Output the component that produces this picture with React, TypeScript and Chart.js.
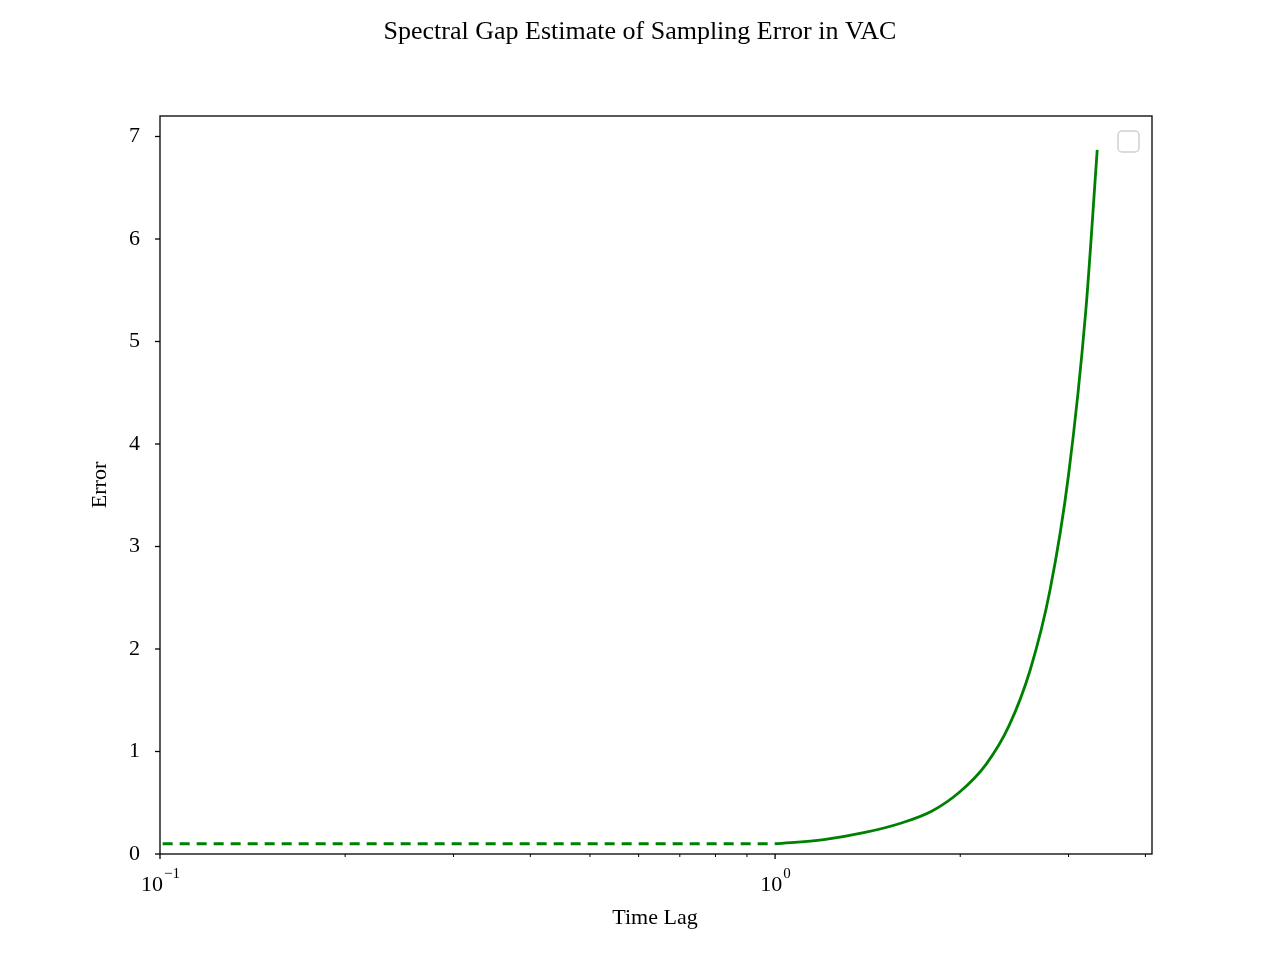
import { useEffect, useRef } from "react";
import { Chart, registerables } from "chart.js";

Chart.register(...registerables);

// dashed flat part, below lag 1
const dashLags = [0.101, 0.2, 0.5, 1.0];
const dashErrors = [0.1, 0.1, 0.1, 0.1];

// solid part, from lag 1 to the end
const solidLags = [1.0, 1.2, 1.4, 1.6, 1.8, 2.0, 2.2, 2.4, 2.6, 2.8, 3.0, 3.2, 3.34];
const solidErrors = [0.1, 0.14, 0.21, 0.3, 0.42, 0.61, 0.87, 1.25, 1.8, 2.58, 3.7, 5.3, 6.87];

const yTicks = [0, 1, 2, 3, 4, 5, 6, 7];
const xMajor = [0.1, 1];
const xMinor = [0.2, 0.3, 0.4, 0.5, 0.6, 0.7, 0.8, 0.9, 2, 3, 4];

const FONT = "'Liberation Serif', 'DejaVu Serif', serif";

const decor = {
  id: "decor",
  afterDraw(chart: any) {
    const { ctx, chartArea: a, scales } = chart;
    ctx.save();
    ctx.strokeStyle = "#000";
    ctx.lineWidth = 1.3;
    ctx.strokeRect(a.left, a.top, a.right - a.left, a.bottom - a.top);
    // ticks
    const tick = (x: number, len: number) => {
      ctx.beginPath();
      ctx.moveTo(x, a.bottom);
      ctx.lineTo(x, a.bottom + len);
      ctx.stroke();
    };
    xMajor.forEach((v) => tick(scales.x.getPixelForValue(v), 5));
    ctx.lineWidth = 1;
    xMinor.forEach((v) => tick(scales.x.getPixelForValue(v), 3));
    ctx.lineWidth = 1.3;
    yTicks.forEach((v) => {
      const y = scales.y.getPixelForValue(v);
      ctx.beginPath();
      ctx.moveTo(a.left, y);
      ctx.lineTo(a.left - 5, y);
      ctx.stroke();
    });
    // x tick labels with superscripts
    ctx.fillStyle = "#000";
    ctx.textBaseline = "top";
    const labels: [number, string][] = [[0.1, "−1"], [1, "0"]];
    labels.forEach(([v, exp]) => {
      const x = scales.x.getPixelForValue(v);
      ctx.font = `22px ${FONT}`;
      const w1 = ctx.measureText("10").width;
      ctx.font = `15px ${FONT}`;
      const w2 = ctx.measureText(exp).width;
      const x0 = x - (w1 + w2) / 2;
      ctx.font = `22px ${FONT}`;
      ctx.fillText("10", x0, a.bottom + 20);
      ctx.font = `15px ${FONT}`;
      ctx.fillText(exp, x0 + w1 + 1, a.bottom + 13);
    });
    // axis titles
    ctx.font = `22px ${FONT}`;
    ctx.textAlign = "center";
    ctx.textBaseline = "middle";
    ctx.fillText("Time Lag", 655, 918);
    ctx.save();
    ctx.translate(100, 485);
    ctx.rotate(-Math.PI / 2);
    ctx.fillText("Error", 0, 0);
    ctx.restore();
    // empty legend box
    ctx.strokeStyle = "#d0d0d0";
    ctx.lineWidth = 1.5;
    ctx.beginPath();
    ctx.roundRect(a.right - 34, a.top + 15, 21, 21, 4);
    ctx.stroke();
    // title
    ctx.fillStyle = "#000";
    ctx.font = `26px ${FONT}`;
    ctx.fillText("Spectral Gap Estimate of Sampling Error in VAC", 640, 32);
    ctx.restore();
  },
};

export default function App() {
  const canvasRef = useRef<HTMLCanvasElement | null>(null);

  useEffect(() => {
    document.body.style.margin = "0";
    const canvas = canvasRef.current;
    if (!canvas) return;
    const chart = new Chart(canvas, {
      type: "line",
      data: {
        datasets: [
          {
            data: dashLags.map((x, i) => ({ x, y: dashErrors[i] })),
            borderColor: "#008000",
            borderWidth: 2.8,
            borderDash: [10, 7],
            pointRadius: 0,
          },
          {
            data: solidLags.map((x, i) => ({ x, y: solidErrors[i] })),
            borderColor: "#008000",
            borderWidth: 2.8,
            pointRadius: 0,
            cubicInterpolationMode: "monotone",
          },
        ],
      },
      options: {
        animation: false,
        responsive: false,
        layout: { padding: { left: 0, right: 128, top: 116, bottom: 0 } },
        plugins: { legend: { display: false }, tooltip: { enabled: false } },
        scales: {
          x: {
            type: "logarithmic",
            min: 0.1,
            max: 4.1,
            grid: { display: false },
            border: { display: false },
            ticks: { display: false },
            afterFit: (s: any) => {
              s.height = 106;
            },
          },
          y: {
            min: 0,
            max: 7.2,
            afterBuildTicks: (s: any) => {
              s.ticks = yTicks.map((value) => ({ value }));
            },
            grid: { display: false },
            border: { display: false },
            ticks: { color: "#000", padding: 12, font: { family: FONT, size: 22 } },
            afterFit: (s: any) => {
              s.width = 160;
            },
          },
        },
      },
      plugins: [decor],
    });
    return () => chart.destroy();
  }, []);

  return <canvas ref={canvasRef} width={1280} height={960} style={{ display: "block" }} />;
}
